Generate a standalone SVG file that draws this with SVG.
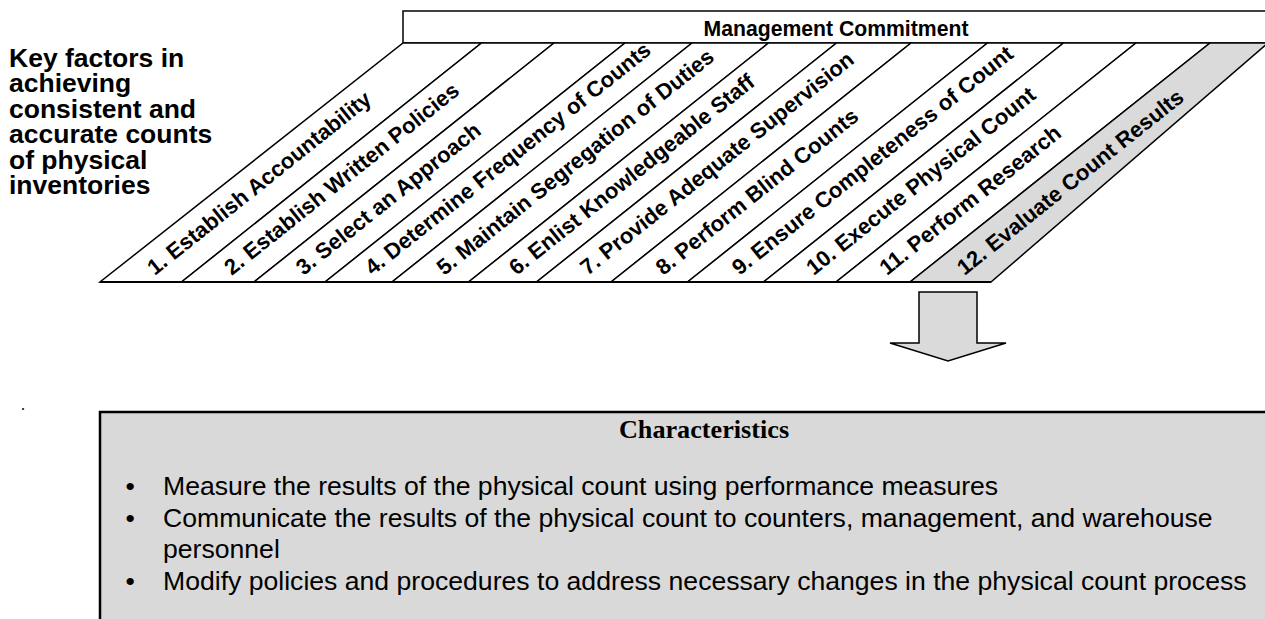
<svg xmlns="http://www.w3.org/2000/svg" width="1265" height="619" viewBox="0 0 1265 619">
<style>
.sans{font-family:"Liberation Sans",Arial,Helvetica,sans-serif;fill:#000}
.b{font-weight:bold}
.lbl{font-size:22px;font-weight:bold}
.band{fill:#fff;stroke:#000;stroke-width:1.5;stroke-linejoin:miter}
.gray{fill:#dadada}
.bul{font-size:26.6px}
</style>
<rect width="1265" height="619" fill="#fff"/>

<g id="title">
<text class="sans b" font-size="26.5" x="9" y="66.5">
<tspan x="9" y="66.5">Key factors in</tspan>
<tspan x="9" y="92">achieving</tspan>
<tspan x="9" y="117.5">consistent and</tspan>
<tspan x="9" y="143">accurate counts</tspan>
<tspan x="9" y="168.5">of physical</tspan>
<tspan x="9" y="194">inventories</tspan>
</text>
</g>

<g id="management-commitment">
<rect x="403" y="11" width="900" height="32" fill="#fff" stroke="#000" stroke-width="1.5"/>
<text class="sans b" font-size="21.2" x="836" y="36" text-anchor="middle">Management Commitment</text>
</g>

<g id="f1"><polygon class="band" points="100,282 181.5,282 481.5,43 403,43"/>
<text class="sans lbl" transform="translate(154.75,276) rotate(-38.6)">1. Establish Accountability</text></g>
<g id="f2"><polygon class="band" points="181.5,282 254,282 554,43 481.5,43"/>
<text class="sans lbl" transform="translate(231.75,276) rotate(-38.6)">2. Establish Written Policies</text></g>
<g id="f3"><polygon class="band" points="254,282 325,282 625,43 554,43"/>
<text class="sans lbl" transform="translate(303.5,276) rotate(-38.6)">3. Select an Approach</text></g>
<g id="f4"><polygon class="band" points="325,282 392,282 692,43 625,43"/>
<text class="sans lbl" transform="translate(372.5,276) rotate(-38.6)">4. Determine Frequency of Counts</text></g>
<g id="f5"><polygon class="band" points="392,282 468.5,282 768.5,43 692,43"/>
<text class="sans lbl" transform="translate(444.25,276) rotate(-38.6)">5. Maintain Segregation of Duties</text></g>
<g id="f6"><polygon class="band" points="468.5,282 536.5,282 836.5,43 768.5,43"/>
<text class="sans lbl" transform="translate(516.5,276) rotate(-38.6)">6. Enlist Knowledgeable Staff</text></g>
<g id="f7"><polygon class="band" points="536.5,282 611,282 911,43 836.5,43"/>
<text class="sans lbl" transform="translate(587.75,276) rotate(-38.6)">7. Provide Adequate Supervision</text></g>
<g id="f8"><polygon class="band" points="611,282 687.5,282 987.5,43 911,43"/>
<text class="sans lbl" transform="translate(663.25,276) rotate(-38.6)">8. Perform Blind Counts</text></g>
<g id="f9"><polygon class="band" points="687.5,282 763.5,282 1063.5,43 987.5,43"/>
<text class="sans lbl" transform="translate(739.5,276) rotate(-38.6)">9. Ensure Completeness of Count</text></g>
<g id="f10"><polygon class="band" points="763.5,282 836,282 1136,43 1063.5,43"/>
<text class="sans lbl" transform="translate(813.75,276) rotate(-38.6)">10. Execute Physical Count</text></g>
<g id="f11"><polygon class="band" points="836,282 910,282 1210,43 1136,43"/>
<text class="sans lbl" transform="translate(887,276) rotate(-38.6)">11. Perform Research</text></g>
<g id="f12"><polygon class="band gray" points="910,282 991,282 1268,43 1210,43"/>
<text class="sans lbl" transform="translate(964.5,276) rotate(-38.6)">12. Evaluate Count Results</text></g>

<g id="connectors">
<line x1="100" y1="282" x2="991" y2="282" stroke="#000" stroke-width="2.2"/>
<polygon points="919,292 977,292 977,343 1006,343 948,361 890,343 919,343" fill="#dadada" stroke="#000" stroke-width="1.5"/>
</g>

<text x="21" y="410" font-family="Liberation Serif,serif" font-size="16">.</text>

<g id="characteristics">
<rect x="100" y="412" width="1200" height="300" fill="#d9d9d9" stroke="#000" stroke-width="2.5"/>
<text x="704" y="438" text-anchor="middle" font-family="Liberation Serif,Times New Roman,serif" font-weight="bold" font-size="26.2">Characteristics</text>
<text class="sans bul" x="125.5" y="495">•</text>
<text class="sans bul" x="163" y="495">Measure the results of the physical count using performance measures</text>
<text class="sans bul" x="125.5" y="527">•</text>
<text class="sans bul" x="163" y="527">Communicate the results of the physical count to counters, management, and warehouse</text>
<text class="sans bul" x="163" y="558">personnel</text>
<text class="sans bul" x="125.5" y="590">•</text>
<text class="sans bul" x="163" y="590">Modify policies and procedures to address necessary changes in the physical count process</text>
</g>
</svg>
